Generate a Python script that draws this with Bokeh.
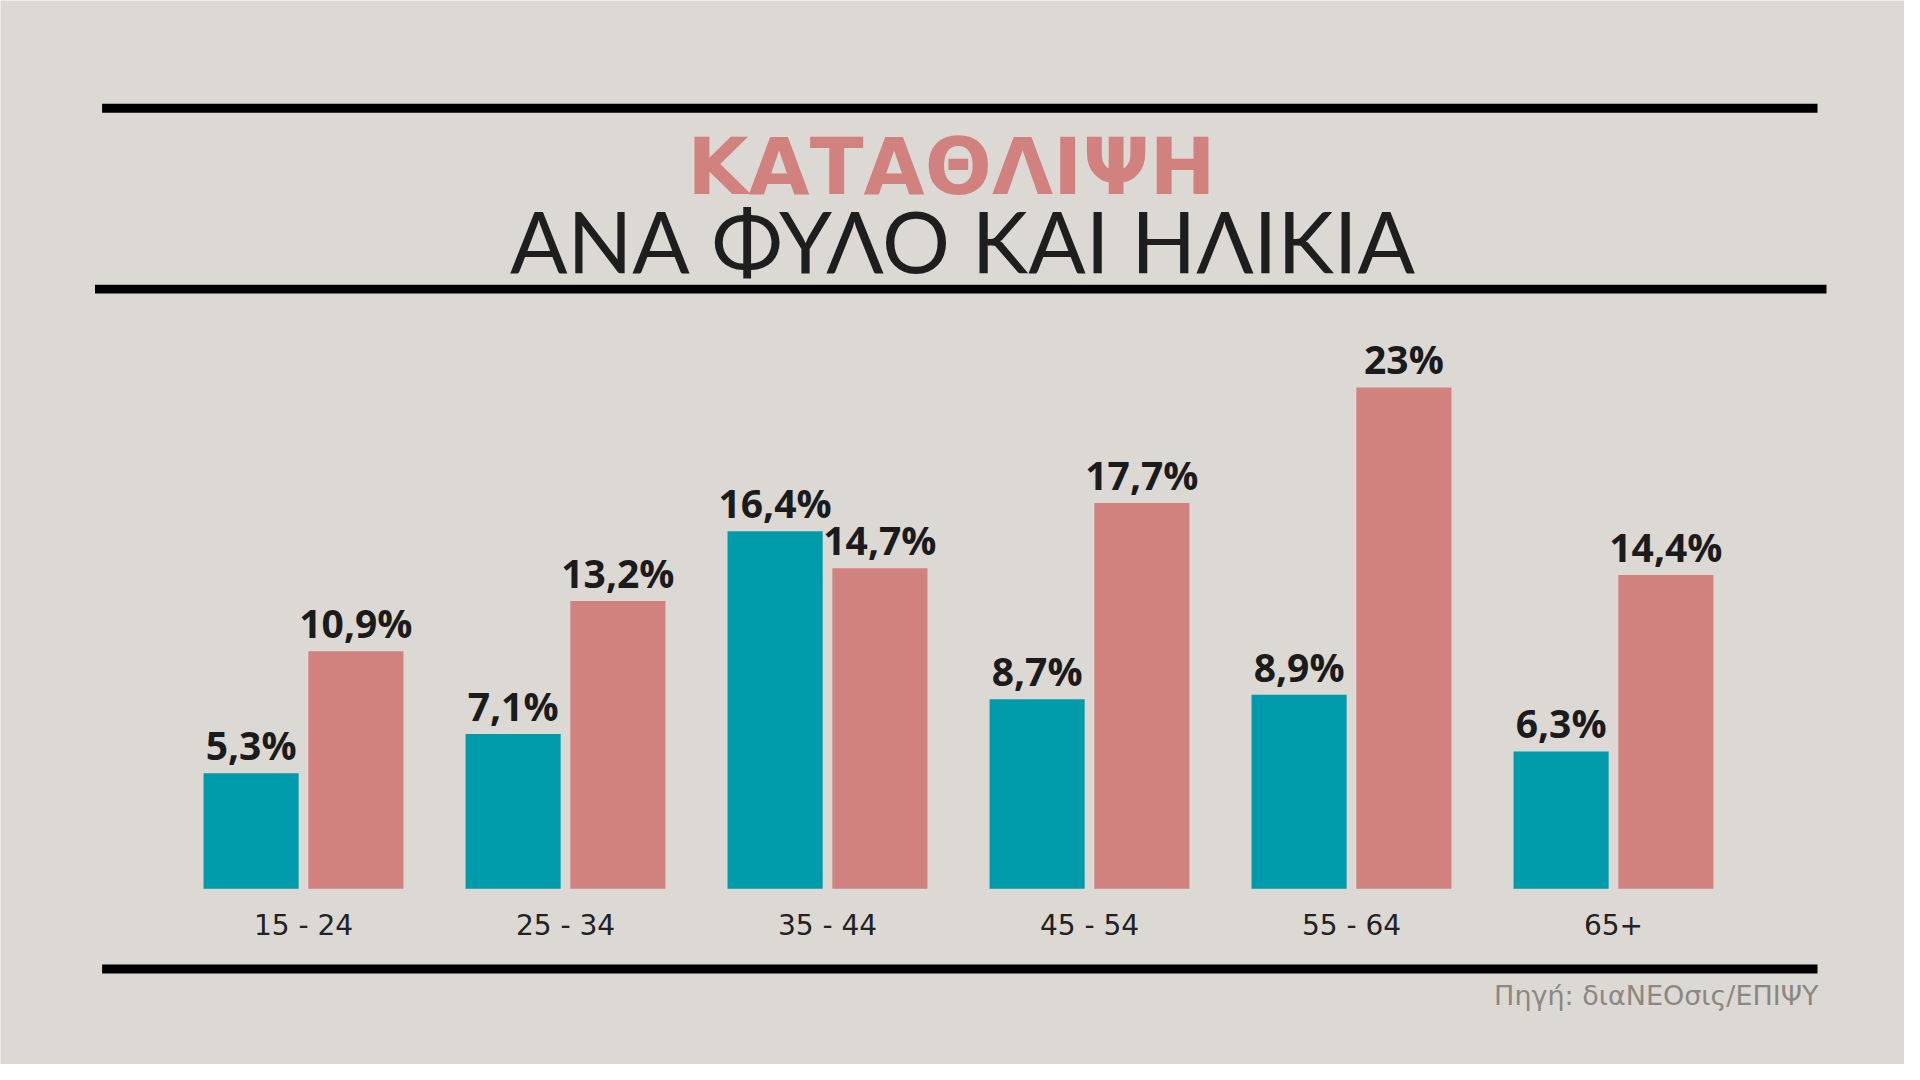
from bokeh.plotting import figure
from bokeh.models import ColumnDataSource, Range1d, LabelSet, BoxAnnotation
from bokeh.transform import dodge
from bokeh.core.properties import value
from bokeh.embed import file_html
from bokeh.resources import INLINE

# ---------------- data ----------------
age_groups = ["15 - 24", "25 - 34", "35 - 44", "45 - 54", "55 - 64", "65+"]
men = [5.3, 7.1, 16.4, 8.7, 8.9, 6.3]
women = [10.9, 13.2, 14.7, 17.7, 23.0, 14.4]
men_text = ["5,3%", "7,1%", "16,4%", "8,7%", "8,9%", "6,3%"]
women_text = ["10,9%", "13,2%", "14,7%", "17,7%", "23%", "14,4%"]
title_text = "ΚΑΤΑΘΛΙΨΗ"
subtitle_text = "ΑΝΑ ΦΥΛΟ ΚΑΙ ΗΛΙΚΙΑ"
source_text = "Πηγή: διαΝΕΟσις/ΕΠΙΨΥ"

# ---------------- layout ----------------
W, H = 1904, 1064
PAGE = 0
X0 = 303 - PAGE      # px of first group centre
XS = 262.0           # px per group
Y0 = 888.3 - PAGE    # px (from top) of baseline
YS = 21.8            # px per percent

BG = "#DCD8D4"
TEAL = "#009BAA"
PINK = "#D2827E"
DARK = "#1B1B1B"


def fx(px):
    return (px - PAGE - X0) / XS


def fy(py):
    return (Y0 - (py - PAGE)) / YS


p = figure(width=W, height=H, output_backend="svg", toolbar_location=None,
           x_axis_location=None, y_axis_location=None, min_border=0,
           x_range=Range1d(-X0 / XS, (W - X0) / XS),
           y_range=Range1d(-(H - Y0) / YS, Y0 / YS))
p.background_fill_color = BG
p.border_fill_color = BG
p.outline_line_color = None
p.grid.visible = False

src = ColumnDataSource(dict(i=list(range(len(age_groups))), age=age_groups,
                            men=men, women=women,
                            men_text=men_text, women_text=women_text))

BW = 0.363
p.vbar(x=dodge("i", -0.2), top="men", bottom=0, width=BW, source=src,
       fill_color=TEAL, line_color=None)
p.vbar(x=dodge("i", 0.2), top="women", bottom=0, width=BW, source=src,
       fill_color=PINK, line_color=None)

lab_kw = dict(text_align="center", text_baseline="alphabetic",
              text_font=value("Open Sans"), text_font_style="bold",
              text_font_size="39px", text_color=DARK, y_offset=13)
p.add_layout(LabelSet(x=dodge("i", -0.2), y="men", text="men_text", source=src, **lab_kw))
p.add_layout(LabelSet(x=dodge("i", 0.2), y="women", text="women_text", source=src, **lab_kw))

p.add_layout(LabelSet(x="i", y=fy(934), text="age", source=src,
                      text_align="center", text_baseline="alphabetic",
                      text_font=value("DejaVu Sans"), text_font_size="28px",
                      text_color="#222222"))

# rules
for (l, r, t, b) in [(101.6, 1817, 103.3, 112.3), (94.5, 1826, 284.3, 293.0),
                     (101.6, 1817, 964.0, 973.0)]:
    p.add_layout(BoxAnnotation(left=fx(l), right=fx(r), top=fy(t), bottom=fy(b),
                               fill_color="black", fill_alpha=1.0, line_color=None,
                               level="underlay"))


def single_text(txt, px, py, align, font, size, color, style="normal"):
    s = ColumnDataSource(dict(x=[fx(px)], y=[fy(py)], t=[txt]))
    p.add_layout(LabelSet(x="x", y="y", text="t", source=s,
                          text_align=align, text_baseline="alphabetic",
                          text_font=value(font), text_font_style=style,
                          text_font_size=size, text_color=color))


single_text(title_text, 951, 193.5, "center", "DejaVu Sans", "79px", PINK, "bold")
single_text(subtitle_text, 962, 272.7, "center", "Lato", "85px", "#1E1E1E")
single_text(source_text, 1818, 1004.3, "right", "DejaVu Sans", "27px", "#8C8782")

open("out.html", "w").write(file_html(p, INLINE))
